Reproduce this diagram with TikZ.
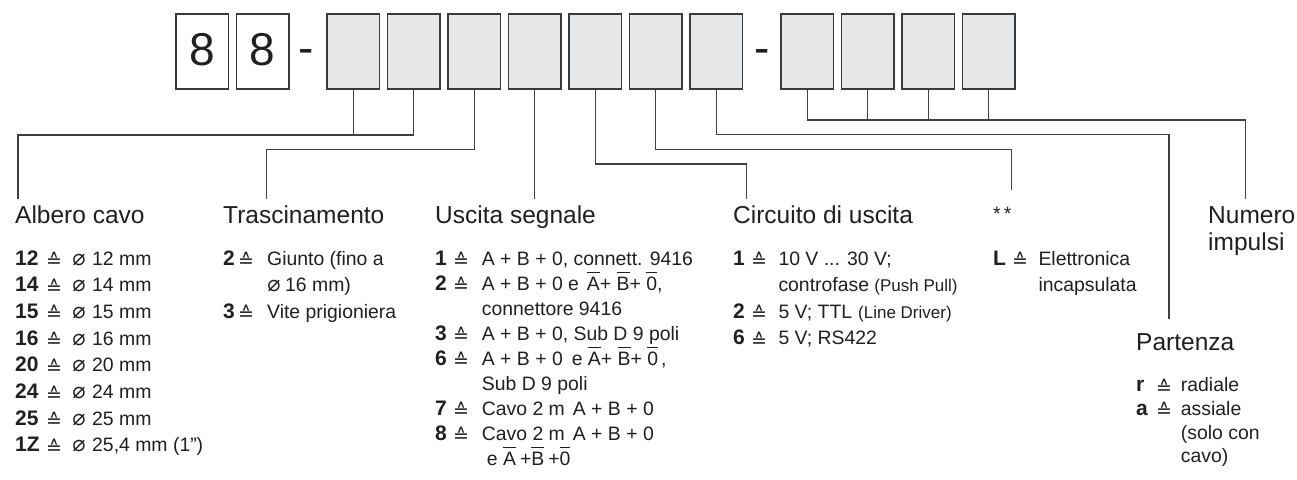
\documentclass[tikz,border=0pt]{standalone}
\usepackage{fontspec}
\usepackage{graphicx}
\setmainfont{Liberation Sans}
\newfontfamily\dvs{DejaVu Sans}
\definecolor{ink}{HTML}{231F20}
\definecolor{boxgray}{HTML}{E6E7E8}
\definecolor{edge}{HTML}{3A3A3A}
\definecolor{wirec}{HTML}{404040}
\newcommand\hdf{\fontsize{24.5}{28}\selectfont}
\newcommand\itf{\fontsize{19.4}{22}\selectfont}
\newcommand\smf{\fontsize{17}{20}\selectfont}
\newcommand\bnf{\fontsize{21}{24}\selectfont\bfseries}
\newcommand\dgf{\fontsize{46}{50}\selectfont}
\newcommand\eqh{\raisebox{-2.5pt}{\dvs\fontsize{19}{21}\selectfont ≙}}
\newcommand\dia{{\dvs\fontsize{22}{24}\selectfont ⌀}}
\newcommand\ovl[1]{\setbox0\hbox{#1}\rlap{\raisebox{0.88em}{\rule{\wd0}{1.1pt}}}\box0}
\begin{document}
\begin{tikzpicture}[x=1pt,y=-1pt,
  box/.style={draw=edge, line width=1.5pt, minimum width=52.5pt, minimum height=75pt, inner sep=0pt, outer sep=0pt, anchor=north west},
  gbox/.style={box, fill=boxgray},
  wbox/.style={box, fill=white},
  wire/.style={draw=wirec, line width=1.3pt},
  digit/.style={anchor=base, inner sep=0pt, font=\dgf, text=ink},
  hdr/.style={anchor=base west, inner sep=0pt, font=\hdf, text=ink},
  txt/.style={anchor=base west, inner sep=0pt, font=\itf, text=ink},
  bnum/.style={anchor=base west, inner sep=0pt, font=\bnf, text=ink},
  eqs/.style={anchor=base, inner sep=0pt, font=\itf, text=ink},
  dsym/.style={anchor=base, inner sep=0pt, text=ink},
]
\fill[white] (0,0) rectangle (1297,479);
\useasboundingbox (0,0) rectangle (1297,479);

% code boxes
\node[wbox] (b1) at (176,14) {};
\node[wbox] (b2) at (236.5,14) {};
\foreach \ii/\xx in {3/327,4/387.5,5/448,6/508.5,7/569,8/629.5,9/690,10/781,11/841.5,12/902,13/962.5}
  \node[gbox] (b\ii) at (\xx,14) {};
\node[digit] (d1) at ([yshift=-13.5pt]b1.center) {8};
\node[digit] (d2) at ([yshift=-13.5pt]b2.center) {8};
\node[digit] (m1) at (306.5,63.7) {-};
\node[digit] (m2) at (762,63.7) {-};

% connectors
\coordinate (cA) at (18,135);     \coordinate (eA) at (18,199);
\draw[wire] (b4.south) |- (cA) -- (eA);
\draw[wire] (b3.south) -- (b3.south |- cA);
\coordinate (cT) at (266.7,149.5); \coordinate (eT) at (266.7,199);
\draw[wire] (b5.south) |- (cT) -- (eT);
\coordinate (eU) at (534.75,199);
\draw[wire] (b6.south) -- (eU);
\coordinate (cC) at (746.7,164);  \coordinate (eC) at (746.7,199);
\draw[wire] (b7.south) |- (cC) -- (eC);
\coordinate (cS) at (1011.7,149.5); \coordinate (eS) at (1011.7,190);
\draw[wire] (b8.south) |- (cS) -- (eS);
\coordinate (cP) at (1169,134.5); \coordinate (eP) at (1169,319);
\draw[wire] (b9.south) |- (cP) -- (eP);
\coordinate (cN) at (1245.7,120); \coordinate (eN) at (1245.7,199);
\draw[wire] (b10.south) |- (cN) -- (eN);
\foreach \ii in {11,12,13} \draw[wire] (b\ii.south) -- (b\ii.south |- cN);

% Albero cavo
\node[hdr] (hA) at (15,223) {Albero cavo};
\foreach \anum/\aval [count=\jj from 0] in {12/12 mm,14/14 mm,15/15 mm,16/16 mm,20/20 mm,24/24 mm,25/25 mm,1Z/{25,4 mm (1\symbol{"22})}} {
  \node[bnum] (aN\jj) at (15,{265+26.7*\jj}) {\anum};
  \node[eqs] (aE\jj) at (54,{265+26.7*\jj}) {\eqh};
  \node[dsym] (aD\jj) at (79,{265+26.7*\jj}) {\dia};
  \node[txt] (aV\jj) at (92,{265+26.7*\jj}) {\aval};
}

% Trascinamento
\node[hdr] (hT) at (223,223) {Trascinamento};
\node[bnum] (tN0) at (223,265) {2};
\node[eqs] (tE0) at (246,265) {\eqh};
\node[txt] (tV0) at (267,265) {Giunto (fino a};
\node[dsym] (tD1) at (274,291.7) {\dia};
\node[txt] (tV1) at (285,291.7) {16 mm)};
\node[bnum] (tN2) at (223,318.4) {3};
\node[eqs] (tE2) at (246,318.4) {\eqh};
\node[txt] (tV2) at (267,318.4) {Vite prigioniera};

% Uscita segnale
\node[hdr] (hU) at (435,223) {Uscita segnale};
\node[bnum] (uN0) at (435,265) {1};
\node[eqs] (uE0) at (461,265) {\eqh};
\node[txt] (uV0) at (481.7,265) {A + B + 0, connett. 9416};
\node[bnum] (uN1) at (435,290) {2};
\node[eqs] (uE1) at (461,290) {\eqh};
\node[txt] (uV1) at (481.7,290) {A + B + 0 e\hspace{8pt}\ovl{A}+ \ovl{B}+ \ovl{0},};
\node[txt] (uV2) at (481.7,315) {connettore 9416};
\node[bnum] (uN3) at (435,340) {3};
\node[eqs] (uE3) at (461,340) {\eqh};
\node[txt] (uV3) at (481.7,340) {A + B + 0, Sub D 9 poli};
\node[bnum] (uN4) at (435,365) {6};
\node[eqs] (uE4) at (461,365) {\eqh};
\node[txt] (uV4) at (481.7,365) {A + B + 0\hspace{9pt}e \ovl{A}+ \ovl{B}+ \ovl{0}\hspace{3pt},};
\node[txt] (uV5) at (481.7,390) {Sub D 9 poli};
\node[bnum] (uN6) at (435,415) {7};
\node[eqs] (uE6) at (461,415) {\eqh};
\node[txt] (uV6) at (481.7,415) {Cavo 2 m\hspace{8pt}A + B + 0};
\node[bnum] (uN7) at (435,440) {8};
\node[eqs] (uE7) at (461,440) {\eqh};
\node[txt] (uV7) at (481.7,440) {Cavo 2 m\hspace{8pt}A + B + 0};
\node[txt] (uV8) at (486.7,465) {e \ovl{A}\hspace{4pt}+\ovl{B}\hspace{4pt}+\ovl{0}};

% Circuito di uscita
\node[hdr] (hC) at (733,223) {Circuito di uscita};
\node[bnum] (cN0) at (733,265) {1};
\node[eqs] (cE0) at (759,265) {\eqh};
\node[txt] (cV0) at (778.3,265) {10 V ... 30 V;};
\node[txt] (cV1) at (778.3,291.5) {controfase {\smf (Push Pull)}};
\node[bnum] (cN2) at (733,318) {2};
\node[eqs] (cE2) at (759,318) {\eqh};
\node[txt] (cV2) at (778.3,318) {5 V; TTL\hspace{6pt}{\smf (Line Driver)}};
\node[bnum] (cN3) at (733,344.5) {6};
\node[eqs] (cE3) at (759,344.5) {\eqh};
\node[txt] (cV3) at (778.3,344.5) {5 V; RS422};

% **
\node[txt] (hS) at (993,220) {*\hspace{3pt}*};
\node[bnum] (sN0) at (993,265) {L};
\node[eqs] (sE0) at (1020,265) {\eqh};
\node[txt] (sV0) at (1038.3,265) {Elettronica};
\node[txt] (sV1) at (1038.3,291.5) {incapsulata};

% Partenza
\node[hdr] (hP) at (1136,350.7) {Partenza};
\node[bnum] (pN0) at (1136,391.7) {r};
\node[eqs] (pE0) at (1164,391.7) {\eqh};
\node[txt] (pV0) at (1180.7,391.7) {radiale};
\node[bnum] (pN1) at (1136,415.4) {a};
\node[eqs] (pE1) at (1164,415.4) {\eqh};
\node[txt] (pV1) at (1180.7,415.4) {assiale};
\node[txt] (pV2) at (1180.7,439.1) {(solo con};
\node[txt] (pV3) at (1180.7,462.8) {cavo)};

% Numero impulsi
\node[hdr] (hN) at (1208,223) {Numero};
\node[hdr] (hN2) at (1208,250) {impulsi};
\end{tikzpicture}
\end{document}
